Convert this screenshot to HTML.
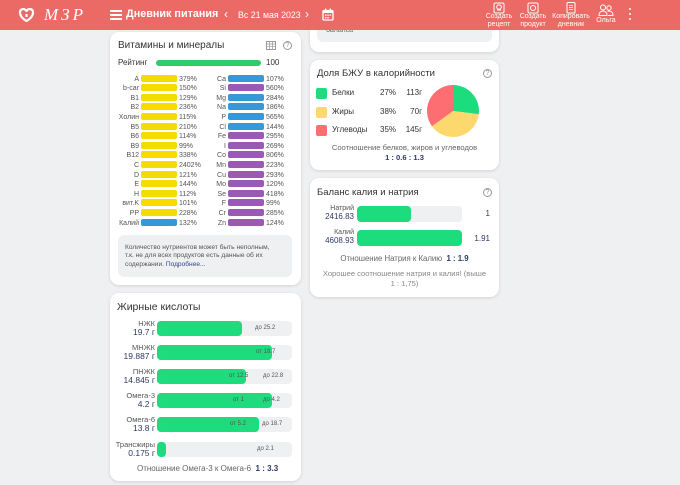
<!DOCTYPE html>
<html><head><meta charset="utf-8">
<style>
*{margin:0;padding:0;box-sizing:border-box}
body{width:680px;height:485px;overflow:hidden;background:#eff0f1;font-family:"Liberation Sans",sans-serif;position:relative;color:#333}
.a{position:absolute}
.hdr{left:0;top:0;width:680px;height:30px;background:#ec6a66;z-index:5}
.card{position:absolute;background:#fff;border-radius:9px;box-shadow:0 1px 3px rgba(0,0,0,.12)}
.t{position:absolute;white-space:nowrap}
.lb{position:absolute;font-size:7px;line-height:8px;color:#555;text-align:right;white-space:nowrap;margin-top:0.5px}
.bar{position:absolute;height:7px;border-radius:2px;margin-top:-1px}
.y{background:#f5dc00}.b{background:#3498db}.p{background:#9b59b6}
.pc{position:absolute;font-size:7px;line-height:8px;color:#555;white-space:nowrap;margin-top:0.5px}
.fb{position:absolute;left:157px;width:135px;height:15px;background:#eef0f2;border-radius:4px}
.ff{position:absolute;left:0;top:0;height:15px;background:#1ddc7d;border-radius:4px}
.fl{position:absolute;right:525px;text-align:right;font-size:7.5px;line-height:8px;white-space:nowrap}
.fl .n{color:#555}.fl .v{color:#2e3a66;font-size:8.5px}
.mk{position:absolute;font-size:6px;color:#555;top:4px;white-space:nowrap}
.hb{position:absolute;font-size:7px;line-height:8px;color:#fff;text-align:center;white-space:nowrap}
.q{position:absolute;width:9px;height:9px;border:1px solid #999;border-radius:50%;font-size:7px;line-height:7px;text-align:center;color:#999}
</style></head><body>

<!-- header -->
<div class="a hdr">
  <svg class="a" style="left:19px;top:8px" width="15" height="14" viewBox="0 0 15 14"><path d="M7.5 3 C5.5 0 1 0.5 1 4.5 C1 8 4 11 7.5 13 C11 11 14 8 14 4.5 C14 0.5 9.5 0 7.5 3 Z M7.5 6 L7.5 9" fill="none" stroke="#fff" stroke-width="2.2" stroke-linejoin="round"/></svg>
  <div class="t" style="left:44px;top:6px;font-family:'Liberation Serif',serif;font-style:italic;font-size:17px;color:#fff;letter-spacing:3px;line-height:18px">МЗР</div>
  <div class="a" style="left:110px;top:10px;width:12px;height:2px;background:#fff"></div>
  <div class="a" style="left:110px;top:14px;width:12px;height:2px;background:#fff"></div>
  <div class="a" style="left:110px;top:18px;width:12px;height:2px;background:#fff"></div>
  <div class="t" style="left:126px;top:8px;font-size:10.8px;font-weight:bold;color:#fff;line-height:13px">Дневник питания</div>
  <div class="t" style="left:224px;top:7px;font-size:12px;color:#fff;line-height:14px">&#8249;</div>
  <div class="t" style="left:238px;top:10px;font-size:8.8px;color:#fff;line-height:10px">Вс 21 мая 2023</div>
  <div class="t" style="left:305px;top:7px;font-size:12px;color:#fff;line-height:14px">&#8250;</div>
  <svg class="a" style="left:322px;top:8px" width="12" height="13" viewBox="0 0 12 13"><rect x="1" y="2.5" width="10" height="9.5" rx="1" fill="none" stroke="#fff" stroke-width="1.3"/><rect x="1" y="2.5" width="10" height="2.5" fill="#fff"/><rect x="3" y="0.5" width="1.3" height="3" fill="#fff"/><rect x="7.7" y="0.5" width="1.3" height="3" fill="#fff"/><g fill="#fff"><rect x="3" y="6.5" width="1.5" height="1.3"/><rect x="5.3" y="6.5" width="1.5" height="1.3"/><rect x="7.6" y="6.5" width="1.5" height="1.3"/><rect x="3" y="9" width="1.5" height="1.3"/><rect x="5.3" y="9" width="1.5" height="1.3"/></g></svg>

  <svg class="a" style="left:493px;top:2px" width="12" height="12" viewBox="0 0 12 12"><rect x="1" y="1" width="10" height="10" rx="1.5" fill="none" stroke="#fff" stroke-width="1"/><circle cx="6" cy="5" r="2.3" fill="none" stroke="#fff" stroke-width="1"/><path d="M4 8h4" stroke="#fff"/></svg>
  <div class="hb" style="left:479px;top:13px;width:40px">Создать<br>рецепт</div>
  <svg class="a" style="left:527px;top:2px" width="12" height="12" viewBox="0 0 12 12"><rect x="1" y="1" width="10" height="10" rx="1.5" fill="none" stroke="#fff" stroke-width="1"/><circle cx="6" cy="6" r="2.5" fill="none" stroke="#fff" stroke-width="1"/></svg>
  <div class="hb" style="left:513px;top:13px;width:40px">Создать<br>продукт</div>
  <svg class="a" style="left:565px;top:2px" width="12" height="12" viewBox="0 0 12 12"><rect x="2" y="0.5" width="8" height="10.5" rx="1" fill="none" stroke="#fff" stroke-width="1"/><path d="M4 3.5h4M4 5.5h4M4 7.5h4" stroke="#fff" stroke-width=".8"/></svg>
  <div class="hb" style="left:546px;top:13px;width:50px">Копировать<br>дневник</div>
  <svg class="a" style="left:598px;top:4px" width="16" height="12" viewBox="0 0 16 12"><circle cx="5" cy="3.5" r="2.5" fill="none" stroke="#fff"/><path d="M1 11.5c0-3 1.8-4.5 4-4.5s4 1.5 4 4.5z" fill="none" stroke="#fff"/><circle cx="11" cy="4" r="2.2" fill="none" stroke="#fff"/><path d="M9.5 7.3c.5-.2 1-.3 1.5-.3 2.2 0 4 1.5 4 4.5h-5" fill="none" stroke="#fff"/></svg>
  <div class="hb" style="left:591px;top:17px;width:30px">Ольга</div>
  <div class="a" style="left:629px;top:8px;width:2.4px;height:2.4px;border-radius:50%;background:#fff"></div>
  <div class="a" style="left:629px;top:13px;width:2.4px;height:2.4px;border-radius:50%;background:#fff"></div>
  <div class="a" style="left:629px;top:18px;width:2.4px;height:2.4px;border-radius:50%;background:#fff"></div>
</div>

<!-- right top partial card -->
<div class="card" style="left:310px;top:-20px;width:189px;height:72px"></div>
<div class="a" style="left:317px;top:0px;width:175px;height:42px;background:#eef0f2;border-radius:6px"></div>
<div class="t" style="left:326px;top:27px;font-size:7px;color:#666">баланса</div>

<!-- Card 1: vitamins -->
<div class="card" style="left:110px;top:32px;width:191px;height:253px"></div>
<div class="t" style="left:118px;top:40px;font-size:10px;line-height:12px;color:#333">Витамины и минералы</div>
<svg class="a" style="left:266px;top:41px" width="10" height="9" viewBox="0 0 10 9"><rect x=".5" y=".5" width="9" height="8" fill="none" stroke="#999" stroke-width="1"/><path d="M.5 3h9M.5 5.7h9M3.5 .5v8M6.5 .5v8" stroke="#999" stroke-width=".7"/></svg>
<div class="q" style="left:283px;top:41px">?</div>
<div class="t" style="left:118px;top:58px;font-size:8px;line-height:10px;color:#333">Рейтинг</div>
<div class="a" style="left:156px;top:60px;width:105px;height:6px;border-radius:3px;background:#2fcc6c"></div>
<div class="t" style="left:266px;top:58px;font-size:8px;line-height:10px;color:#333">100</div>

<!-- left column -->
<div class="lb" style="left:110px;width:29px;top:75px">A</div><div class="bar y" style="left:141px;width:36px;top:75.5px"></div><div class="pc" style="left:179px;top:75px">379%</div>
<div class="lb" style="left:110px;width:29px;top:84.6px">b-car</div><div class="bar y" style="left:141px;width:36px;top:85.1px"></div><div class="pc" style="left:179px;top:84.6px">150%</div>
<div class="lb" style="left:110px;width:29px;top:94.2px">B1</div><div class="bar y" style="left:141px;width:36px;top:94.7px"></div><div class="pc" style="left:179px;top:94.2px">129%</div>
<div class="lb" style="left:110px;width:29px;top:103.8px">B2</div><div class="bar y" style="left:141px;width:36px;top:104.3px"></div><div class="pc" style="left:179px;top:103.8px">236%</div>
<div class="lb" style="left:110px;width:29px;top:113.4px">Холин</div><div class="bar y" style="left:141px;width:36px;top:113.9px"></div><div class="pc" style="left:179px;top:113.4px">115%</div>
<div class="lb" style="left:110px;width:29px;top:123px">B5</div><div class="bar y" style="left:141px;width:36px;top:123.5px"></div><div class="pc" style="left:179px;top:123px">210%</div>
<div class="lb" style="left:110px;width:29px;top:132.6px">B6</div><div class="bar y" style="left:141px;width:36px;top:133.1px"></div><div class="pc" style="left:179px;top:132.6px">114%</div>
<div class="lb" style="left:110px;width:29px;top:142.2px">B9</div><div class="bar y" style="left:141px;width:36px;top:142.7px"></div><div class="pc" style="left:179px;top:142.2px">99%</div>
<div class="lb" style="left:110px;width:29px;top:151.8px">B12</div><div class="bar y" style="left:141px;width:36px;top:152.3px"></div><div class="pc" style="left:179px;top:151.8px">338%</div>
<div class="lb" style="left:110px;width:29px;top:161.4px">C</div><div class="bar y" style="left:141px;width:36px;top:161.9px"></div><div class="pc" style="left:179px;top:161.4px">2402%</div>
<div class="lb" style="left:110px;width:29px;top:171px">D</div><div class="bar y" style="left:141px;width:36px;top:171.5px"></div><div class="pc" style="left:179px;top:171px">121%</div>
<div class="lb" style="left:110px;width:29px;top:180.6px">E</div><div class="bar y" style="left:141px;width:36px;top:181.1px"></div><div class="pc" style="left:179px;top:180.6px">144%</div>
<div class="lb" style="left:110px;width:29px;top:190.2px">H</div><div class="bar y" style="left:141px;width:36px;top:190.7px"></div><div class="pc" style="left:179px;top:190.2px">112%</div>
<div class="lb" style="left:110px;width:29px;top:199.8px">вит.K</div><div class="bar y" style="left:141px;width:36px;top:200.3px"></div><div class="pc" style="left:179px;top:199.8px">101%</div>
<div class="lb" style="left:110px;width:29px;top:209.4px">PP</div><div class="bar y" style="left:141px;width:36px;top:209.9px"></div><div class="pc" style="left:179px;top:209.4px">228%</div>
<div class="lb" style="left:110px;width:29px;top:219px">Калий</div><div class="bar b" style="left:141px;width:36px;top:219.5px"></div><div class="pc" style="left:179px;top:219px">132%</div>
<!-- right column -->
<div class="lb" style="left:196px;width:30px;top:75px">Ca</div><div class="bar b" style="left:228px;width:36px;top:75.5px"></div><div class="pc" style="left:266px;top:75px">107%</div>
<div class="lb" style="left:196px;width:30px;top:84.6px">Si</div><div class="bar p" style="left:228px;width:36px;top:85.1px"></div><div class="pc" style="left:266px;top:84.6px">560%</div>
<div class="lb" style="left:196px;width:30px;top:94.2px">Mg</div><div class="bar b" style="left:228px;width:36px;top:94.7px"></div><div class="pc" style="left:266px;top:94.2px">284%</div>
<div class="lb" style="left:196px;width:30px;top:103.8px">Na</div><div class="bar b" style="left:228px;width:36px;top:104.3px"></div><div class="pc" style="left:266px;top:103.8px">186%</div>
<div class="lb" style="left:196px;width:30px;top:113.4px">P</div><div class="bar b" style="left:228px;width:36px;top:113.9px"></div><div class="pc" style="left:266px;top:113.4px">565%</div>
<div class="lb" style="left:196px;width:30px;top:123px">Cl</div><div class="bar b" style="left:228px;width:36px;top:123.5px"></div><div class="pc" style="left:266px;top:123px">144%</div>
<div class="lb" style="left:196px;width:30px;top:132.6px">Fe</div><div class="bar p" style="left:228px;width:36px;top:133.1px"></div><div class="pc" style="left:266px;top:132.6px">295%</div>
<div class="lb" style="left:196px;width:30px;top:142.2px">I</div><div class="bar p" style="left:228px;width:36px;top:142.7px"></div><div class="pc" style="left:266px;top:142.2px">269%</div>
<div class="lb" style="left:196px;width:30px;top:151.8px">Co</div><div class="bar p" style="left:228px;width:36px;top:152.3px"></div><div class="pc" style="left:266px;top:151.8px">806%</div>
<div class="lb" style="left:196px;width:30px;top:161.4px">Mn</div><div class="bar p" style="left:228px;width:36px;top:161.9px"></div><div class="pc" style="left:266px;top:161.4px">223%</div>
<div class="lb" style="left:196px;width:30px;top:171px">Cu</div><div class="bar p" style="left:228px;width:36px;top:171.5px"></div><div class="pc" style="left:266px;top:171px">293%</div>
<div class="lb" style="left:196px;width:30px;top:180.6px">Mo</div><div class="bar p" style="left:228px;width:36px;top:181.1px"></div><div class="pc" style="left:266px;top:180.6px">120%</div>
<div class="lb" style="left:196px;width:30px;top:190.2px">Se</div><div class="bar p" style="left:228px;width:36px;top:190.7px"></div><div class="pc" style="left:266px;top:190.2px">418%</div>
<div class="lb" style="left:196px;width:30px;top:199.8px">F</div><div class="bar p" style="left:228px;width:36px;top:200.3px"></div><div class="pc" style="left:266px;top:199.8px">99%</div>
<div class="lb" style="left:196px;width:30px;top:209.4px">Cr</div><div class="bar p" style="left:228px;width:36px;top:209.9px"></div><div class="pc" style="left:266px;top:209.4px">285%</div>
<div class="lb" style="left:196px;width:30px;top:219px">Zn</div><div class="bar p" style="left:228px;width:36px;top:219.5px"></div><div class="pc" style="left:266px;top:219px">124%</div>

<div class="a" style="left:118px;top:235px;width:174px;height:42px;background:#eef0f2;border-radius:6px"></div>
<div class="t" style="left:125px;top:243.5px;font-size:6.6px;line-height:8.6px;color:#555">Количество нутриентов может быть неполным,<br>т.к. не для всех продуктов есть данные об их<br>содержании. <span style="color:#34468a">Подробнее...</span></div>

<!-- Card 2: fatty acids -->
<div class="card" style="left:110px;top:293px;width:191px;height:188px"></div>
<div class="t" style="left:117px;top:301px;font-size:10.5px;line-height:12px;color:#333">Жирные кислоты</div>

<div class="fl" style="top:320px"><span class="n">НЖК</span><br><span class="v">19.7 г</span></div>
<div class="fb" style="top:321px"><div class="ff" style="width:85px"></div><div class="mk" style="left:98px">до 25.2</div></div>

<div class="fl" style="top:344px"><span class="n">МНЖК</span><br><span class="v">19.887 г</span></div>
<div class="fb" style="top:345px"><div class="ff" style="width:115px"></div><div class="mk" style="left:99px">от 18.7</div></div>

<div class="fl" style="top:368px"><span class="n">ПНЖК</span><br><span class="v">14.845 г</span></div>
<div class="fb" style="top:369px"><div class="ff" style="width:89px"></div><div class="mk" style="left:72px">от 12.5</div><div class="mk" style="left:106px">до 22.8</div></div>

<div class="fl" style="top:392px"><span class="n">Омега-3</span><br><span class="v">4.2 г</span></div>
<div class="fb" style="top:393px"><div class="ff" style="width:115px"></div><div class="mk" style="left:76px">от 1</div><div class="mk" style="left:106px">до 4.2</div></div>

<div class="fl" style="top:416px"><span class="n">Омега-6</span><br><span class="v">13.8 г</span></div>
<div class="fb" style="top:417px"><div class="ff" style="width:102px"></div><div class="mk" style="left:73px">от 5.2</div><div class="mk" style="left:105px">до 18.7</div></div>

<div class="fl" style="top:441px"><span class="n">Трансжиры</span><br><span class="v">0.175 г</span></div>
<div class="fb" style="top:442px"><div class="ff" style="width:9px"></div><div class="mk" style="left:100px">до 2.1</div></div>

<div class="t" style="left:137px;top:464px;font-size:8px;line-height:10px;color:#666">Отношение Омега-3 к Омега-6 &nbsp;<span style="color:#2e3a66;font-weight:bold">1 : 3.3</span></div>

<!-- Card 3: BJU -->
<div class="card" style="left:310px;top:60px;width:189px;height:110px"></div>
<div class="t" style="left:317px;top:68px;font-size:9.5px;line-height:11px;color:#333">Доля БЖУ в калорийности</div>
<div class="q" style="left:483px;top:69px">?</div>
<div class="a" style="left:316px;top:88px;width:11px;height:11px;border-radius:2px;background:#1ddc7d"></div>
<div class="a" style="left:316px;top:107px;width:11px;height:11px;border-radius:2px;background:#fdd86c"></div>
<div class="a" style="left:316px;top:125px;width:11px;height:11px;border-radius:2px;background:#fc6e72"></div>
<div class="t" style="left:332px;top:88px;font-size:8px;line-height:10px">Белки</div>
<div class="t" style="left:332px;top:107px;font-size:8px;line-height:10px">Жиры</div>
<div class="t" style="left:332px;top:125px;font-size:8px;line-height:10px">Углеводы</div>
<div class="t" style="left:380px;top:88px;font-size:8px;line-height:10px">27%</div>
<div class="t" style="left:380px;top:107px;font-size:8px;line-height:10px">38%</div>
<div class="t" style="left:380px;top:125px;font-size:8px;line-height:10px">35%</div>
<div class="t" style="left:398px;width:24px;text-align:right;top:88px;font-size:8px;line-height:10px">113г</div>
<div class="t" style="left:398px;width:24px;text-align:right;top:107px;font-size:8px;line-height:10px">70г</div>
<div class="t" style="left:398px;width:24px;text-align:right;top:125px;font-size:8px;line-height:10px">145г</div>
<svg class="a" style="left:0;top:0" width="680" height="485" viewBox="0 0 680 485">
  <path d="M453 111 L453 85 A26 26 0 0 1 478.8 114.3 Z" fill="#1ddc7d"/>
  <path d="M453 111 L478.8 114.3 A26 26 0 0 1 431.97 126.28 Z" fill="#fdd86c"/>
  <path d="M453 111 L431.97 126.28 A26 26 0 0 1 453 85 Z" fill="#fc6e72"/>
</svg>
<div class="t" style="left:310px;width:189px;text-align:center;top:143px;font-size:7.6px;line-height:10px;color:#666">Соотношение белков, жиров и углеводов</div>
<div class="t" style="left:310px;width:189px;text-align:center;top:153px;font-size:7.6px;line-height:10px;color:#2e3a66;font-weight:bold">1 : 0.6 : 1.3</div>

<!-- Card 4: K/Na balance -->
<div class="card" style="left:310px;top:178px;width:189px;height:119px"></div>
<div class="t" style="left:317px;top:187px;font-size:9.5px;line-height:11px;color:#333">Баланс калия и натрия</div>
<div class="q" style="left:483px;top:188px">?</div>
<div class="t" style="left:310px;width:44px;text-align:right;top:205px;font-size:7px;line-height:8px;color:#555">Натрий<br><span style="color:#2e3a66;font-size:8px">2416.83</span></div>
<div class="a" style="left:357px;top:206px;width:105px;height:16px;background:#eef0f2;border-radius:4px"><div class="a" style="left:0;top:0;width:54px;height:16px;background:#1ddc7d;border-radius:4px"></div></div>
<div class="t" style="left:470px;width:20px;text-align:right;top:209px;font-size:8px;line-height:10px;color:#2e3a66">1</div>
<div class="t" style="left:310px;width:44px;text-align:right;top:229px;font-size:7px;line-height:8px;color:#555">Калий<br><span style="color:#2e3a66;font-size:8px">4608.93</span></div>
<div class="a" style="left:357px;top:230px;width:105px;height:16px;background:#1ddc7d;border-radius:4px"></div>
<div class="t" style="left:466px;width:24px;text-align:right;top:234px;font-size:8px;line-height:10px;color:#2e3a66">1.91</div>
<div class="t" style="left:310px;width:189px;text-align:center;top:254px;font-size:7.8px;line-height:10px;color:#666">Отношение Натрия к Калию &nbsp;<span style="color:#2e3a66;font-weight:bold">1 : 1.9</span></div>
<div class="t" style="left:310px;width:189px;text-align:center;top:269px;font-size:7.6px;line-height:10px;color:#888">Хорошее соотношение натрия и калия! (выше<br>1 : 1,75)</div>

</body></html>
